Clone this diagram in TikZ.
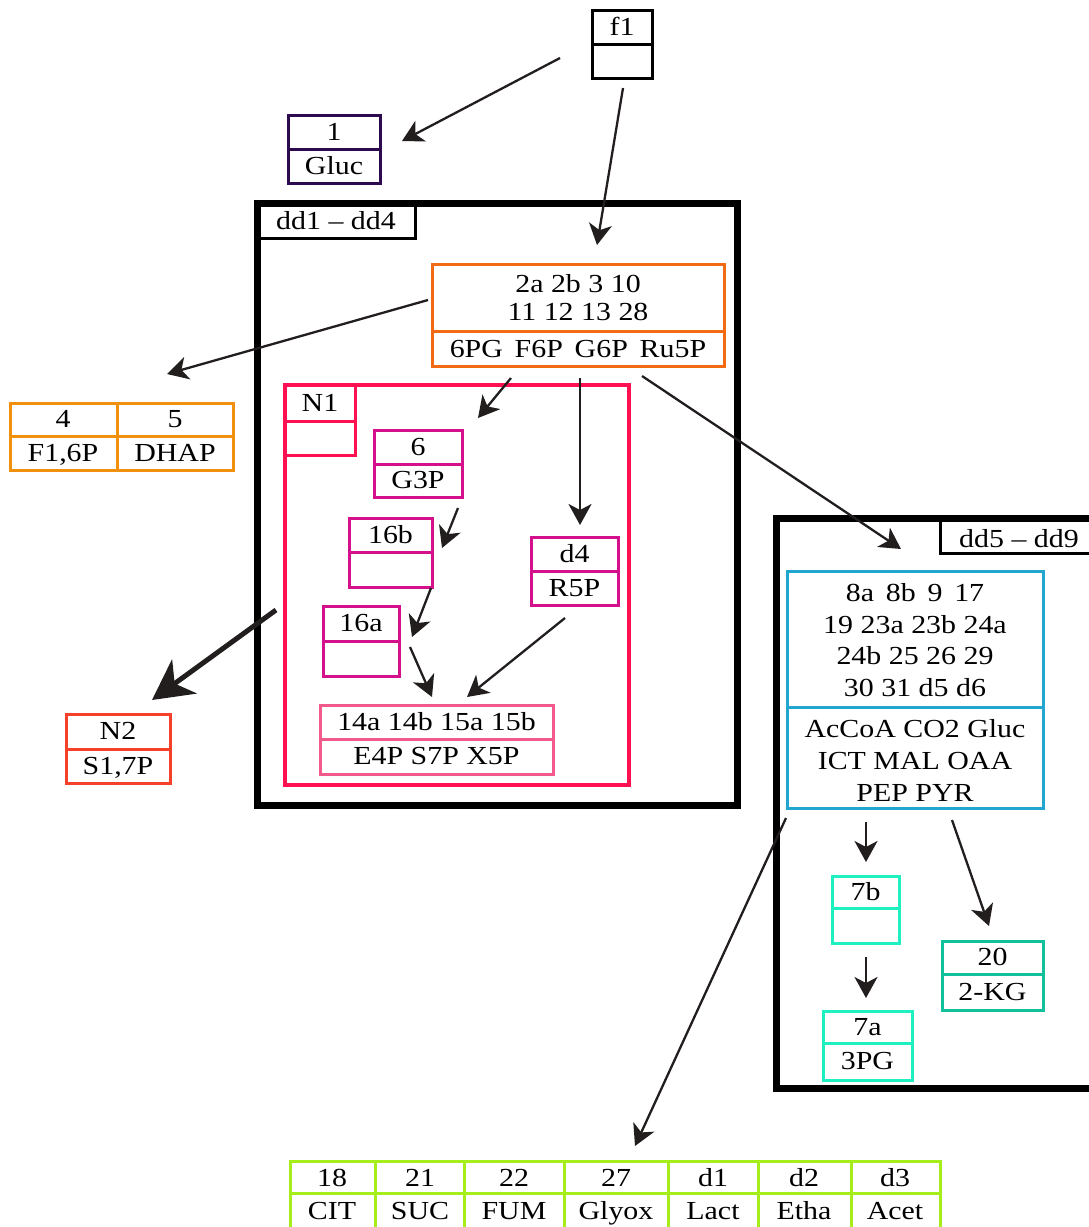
\documentclass[tikz,border=0pt]{standalone}
\usepackage{fontspec}
\setmainfont{Liberation Serif}[FakeStretch=1.15]
\usetikzlibrary{arrows.meta}
\definecolor{cpurple}{RGB}{45,10,80}
\definecolor{corange}{RGB}{242,107,18}
\definecolor{camber}{RGB}{240,144,12}
\definecolor{ccrimson}{RGB}{255,16,80}
\definecolor{cmagenta}{RGB}{212,16,140}
\definecolor{cpink}{RGB}{242,90,140}
\definecolor{cred}{RGB}{245,64,42}
\definecolor{cblue}{RGB}{34,166,207}
\definecolor{caqua}{RGB}{30,240,192}
\definecolor{cteal}{RGB}{18,192,156}
\definecolor{clime}{RGB}{166,238,26}
\definecolor{carrow}{RGB}{34,30,30}
\tikzset{
  cell/.style={line width=3pt, inner sep=0pt, outer sep=0pt},
  txt/.style={inner sep=0pt, text height=20pt, text depth=4pt, font=\fontsize{26}{30}\selectfont},
  mtxt/.style={inner sep=0pt, align=center},
  arr/.style={line width=2.3pt, draw=carrow, -{Stealth[length=21pt,width=23pt,inset=6pt]}},
  bigarr/.style={line width=5pt, draw=carrow, -{Stealth[length=40pt,width=42pt,inset=12pt]}},
  frame/.style={line width=7pt, draw=black, inner sep=0pt, outer sep=0pt},
}
% name, colour, x1, y1, x2, y2, ydiv, top, bottom
\newcommand\twobox[9]{%
  \pgfmathsetmacro\tbw{#5-#3}\pgfmathsetmacro\tbh{#6-#4}%
  \node[cell, draw=#2, minimum width=\tbw pt, minimum height=\tbh pt, anchor=north west] (#1) at (#3,#4) {};
  \draw[draw=#2, line width=3pt] (#3,#7) -- (#5,#7);
  \node[txt] (#1-t) at ({(#3+#5)/2},{(#4+#7)/2}) {#8};
  \node[txt] (#1-b) at ({(#3+#5)/2},{(#7+#6)/2}) {#9};
}
\begin{document}
\begin{tikzpicture}[x=1pt,y=-1pt]
\useasboundingbox (0,0) rectangle (1089,1227);
\clip (0,0) rectangle (1089,1227);
\fill[white] (0,0) rectangle (1089,1227);

% big frames
\node[frame, minimum width=480pt, minimum height=602pt, anchor=north west] (dd1) at (257,203) {};
\node[cell, draw=black, minimum width=158pt, minimum height=35pt, anchor=north west] (dd1lab) at (257,203) {};
\node[txt] (dd1lab-t) at (336,221) {dd1 -- dd4};

\node[frame, minimum width=330pt, minimum height=570pt, anchor=north west] (dd5) at (776,518) {};
\node[cell, draw=black, minimum width=160pt, minimum height=35pt, anchor=north west] (dd5lab) at (940,518) {};
\node[txt] (dd5lab-t) at (1019,539) {dd5 -- dd9};

% N1 frame
\node[cell, line width=4pt, draw=ccrimson, minimum width=344pt, minimum height=400pt, anchor=north west] (N1) at (285,385) {};
\twobox{N1lab}{ccrimson}{285}{385}{355}{455}{421}{N1}{}

% boxes
\twobox{f1}{black}{592}{10}{652}{78}{44}{f1}{}
\twobox{b1}{cpurple}{288}{115}{380}{183}{149}{1}{Gluc}

% orange box
\node[cell, draw=corange, minimum width=292pt, minimum height=102pt, anchor=north west] (or) at (432,264) {};
\draw[draw=corange, line width=3pt] (432,331) -- (724,331);
\node[mtxt, font=\fontsize{26}{28}\selectfont] (or-t) at (578,298) {2a 2b 3 10\\11 12 13 28};
\node[txt] (or-b) at (578,349) {6PG\, F6P\, G6P\, Ru5P};

% 4/5 table
\node[cell, draw=camber, minimum width=223pt, minimum height=67pt, anchor=north west] (t45) at (10,403) {};
\draw[draw=camber, line width=3pt] (10,436) -- (233,436);
\draw[draw=camber, line width=3pt] (117,403) -- (117,470);
\node[txt] (t45-a) at (63,419) {4};
\node[txt] (t45-b) at (175,419) {5};
\node[txt] (t45-c) at (63,453) {F1,6P};
\node[txt] (t45-d) at (175,453) {DHAP};

% inside N1
\twobox{b6}{cmagenta}{374}{430}{462}{497}{464}{6}{G3P}
\twobox{b16b}{cmagenta}{349}{518}{432}{587}{552}{16b}{}
\twobox{b16a}{cmagenta}{323}{606}{399}{676}{641}{16a}{}
\twobox{bd4}{cmagenta}{531}{537}{618}{605}{571}{d4}{R5P}
\twobox{b14}{cpink}{320}{705}{553}{774}{739}{14a 14b 15a 15b}{E4P S7P X5P}

\twobox{bN2}{cred}{66}{714}{170}{783}{749}{N2}{S1,7P}

% blue box
\node[cell, draw=cblue, minimum width=256pt, minimum height=237pt, anchor=north west] (bl) at (787,571) {};
\draw[draw=cblue, line width=3pt] (787,707) -- (1043,707);
\node[mtxt, font=\fontsize{26}{31.5}\selectfont] (bl-t) at (915,640) {8a\, 8b\, 9\, 17\\19 23a 23b 24a\\24b 25 26 29\\30 31 d5 d6};
\node[mtxt, font=\fontsize{26}{32}\selectfont] (bl-b) at (915,760) {AcCoA CO2 Gluc\\ICT MAL OAA\\PEP PYR};

\twobox{b7b}{caqua}{832}{876}{899}{943}{908}{7b}{}
\twobox{b7a}{caqua}{823}{1011}{912}{1080}{1043}{7a}{3PG}
\twobox{b20}{cteal}{942}{941}{1043}{1010}{974}{20}{2-KG}

% bottom table
\node[cell, draw=clime, minimum width=650pt, minimum height=72pt, anchor=north west] (bt) at (290,1161) {};
\draw[draw=clime, line width=3pt] (290,1193) -- (940,1193);
\foreach \xx in {375,464,564,668,758,851} \draw[draw=clime, line width=3pt] (\xx,1161) -- (\xx,1240);
\foreach \xx/\tt/\bb [count=\i] in {332/18/CIT,420/21/SUC,514/22/FUM,616/27/Glyox,713/d1/Lact,804/d2/Etha,895/d3/Acet}{
  \node[txt] (bt-t\i) at (\xx,1178) {\tt};
  \node[txt] (bt-b\i) at (\xx,1211) {\bb};
}

% arrow coordinates
\coordinate (a1s) at (560,58);   \coordinate (a1e) at (402,141);
\coordinate (a2s) at (623,88);   \coordinate (a2e) at (597,245);
\coordinate (a3s) at (428,300);  \coordinate (a3e) at (167,374);
\coordinate (a4s) at (511,378);  \coordinate (a4e) at (478,418);
\coordinate (a5s) at (580,378);  \coordinate (a5e) at (580,525);
\coordinate (a6s) at (642,376);  \coordinate (a6e) at (901,549);
\coordinate (a7s) at (458,508);  \coordinate (a7e) at (442,548);
\coordinate (a8s) at (431,588);  \coordinate (a8e) at (412,637);
\coordinate (a9s) at (410,647);  \coordinate (a9e) at (432,697);
\coordinate (a10s) at (565,618); \coordinate (a10e) at (467,697);
\coordinate (a11s) at (276,610); \coordinate (a11e) at (152,700);
\coordinate (a12s) at (866,822); \coordinate (a12e) at (866,862);
\coordinate (a13s) at (866,957); \coordinate (a13e) at (866,998);
\coordinate (a14s) at (952,820); \coordinate (a14e) at (989,926);
\coordinate (a15s) at (786,818); \coordinate (a15e) at (635,1146);

\foreach \k in {1,2,3,4,5,6,7,8,9,10,12,13,14,15}
  \draw[arr] (a\k s) -- (a\k e);
\draw[bigarr] (a11s) -- (a11e);
\end{tikzpicture}
\end{document}
